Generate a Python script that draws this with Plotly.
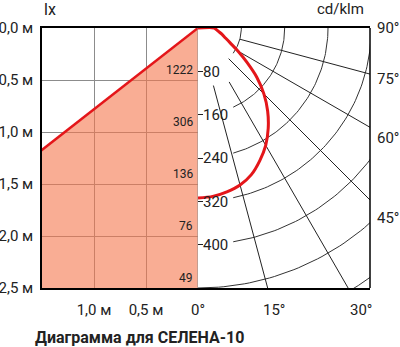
import numpy as np
import plotly.graph_objects as go

# ---------------- data ----------------
# left panel: illuminance cone
depth_ticks = [0.0, 0.5, 1.0, 1.5, 2.0, 2.5]
depth_labels = ["0,0 м", "0,5 м", "1,0 м", "1,5 м", "2,0 м", "2,5 м"]
width_ticks = [1.0, 0.5]
width_labels = ["1,0 м", "0,5 м"]
lux_depths = [0.5, 1.0, 1.5, 2.0, 2.5]
lux_values = [1222, 306, 136, 76, 49]
beam_half_angle_deg = 52

# right panel: luminous intensity curve (cd/klm)
curve_angles = [0, 5, 10, 15, 20, 25, 30, 35, 40, 45, 50, 55, 60, 65, 70, 75, 80, 85, 90, 100]
curve_cdklm = [314, 312, 307, 300, 288, 270, 250, 226, 200, 172, 142, 110, 85, 66, 54, 46, 39, 34, 30, 0]
ring_values = [80, 160, 240, 320, 400, 480, 560]
ring_labels = [80, 160, 240, 320, 400]
spoke_angles = [15, 30, 45, 60, 75]
spoke_start = [110, 115, 80, 80, 80]
side_angle_labels = [90, 75, 60, 45]
bottom_angle_labels = [0, 15, 30]

# ---------------- geometry ----------------
W, H = 400, 347
X_L, X_M, X_R = 42, 198, 370
Y_T, Y_B = 28, 288
W_M, D_M = 1.5, 2.5
R_MAX_Y = 480.0
px_per_unit = (Y_B - Y_T) / R_MAX_Y
R_MAX_X = (X_R - X_M) / px_per_unit
ydom = [1 - Y_B / H, 1 - Y_T / H]

RED = "rgb(228,22,26)"
GRID = "#8c8c8c"
INK = "#222222"
FONT = "Roboto"

fig = go.Figure()

# ---- left panel ----
t = np.tan(np.radians(beam_half_angle_deg))
edge_x = D_M * t
fig.add_trace(go.Scatter(x=[0, edge_x, 0, 0], y=[0, D_M, D_M, 0], fill="toself",
                         fillcolor="rgba(245,118,76,0.6)", line=dict(width=0),
                         mode="lines", hoverinfo="skip", xaxis="x", yaxis="y"))
fig.add_trace(go.Scatter(x=[0, edge_x], y=[0, D_M], mode="lines",
                         line=dict(color=RED, width=2.5), xaxis="x", yaxis="y"))

# ---- right panel: polar grid ----
rx, ry = [], []
gap = 65
for r in ring_values:
    a0 = np.arcsin(min(1.0, gap / r)) if r in ring_labels else 0.0
    th = np.linspace(a0, np.pi / 2, 80)
    rx += list(r * np.sin(th)) + [None]
    ry += list(r * np.cos(th)) + [None]
fig.add_trace(go.Scatter(x=rx, y=ry, mode="lines", line=dict(color="#333", width=1),
                         xaxis="x2", yaxis="y2", hoverinfo="skip"))
sx, sy = [], []
for a, r0 in zip(spoke_angles, spoke_start):
    th = np.radians(a)
    sx += [r0 * np.sin(th), 900 * np.sin(th), None]
    sy += [r0 * np.cos(th), 900 * np.cos(th), None]
fig.add_trace(go.Scatter(x=sx, y=sy, mode="lines", line=dict(color="#222", width=1),
                         xaxis="x2", yaxis="y2", hoverinfo="skip"))

th = np.radians(curve_angles)
I = np.array(curve_cdklm, dtype=float)
fig.add_trace(go.Scatter(x=I * np.sin(th), y=I * np.cos(th), mode="lines",
                         line=dict(color=RED, width=3, shape="spline", smoothing=0.8),
                         xaxis="x2", yaxis="y2"))

# ---- annotations ----
ann = []
for d, v in zip(lux_depths, lux_values):
    ann.append(dict(x=0, y=d, xref="x", yref="y", text=str(v), showarrow=False,
                    xanchor="right", yanchor="bottom", xshift=-3, yshift=1,
                    font=dict(size=12, color=INK, family=FONT)))

side_off = 18
xc = R_MAX_X + side_off / px_per_unit
for a in side_angle_labels:
    th_a = np.radians(a)
    ann.append(dict(x=R_MAX_X, y=xc * np.cos(th_a) / np.sin(th_a), xref="x2", yref="y2",
                    text=f"{a}°", showarrow=False, xanchor="center", yanchor="middle",
                    xshift=side_off, font=dict(size=15, color=INK, family=FONT)))
bot_off = 22
yc = R_MAX_Y + bot_off / px_per_unit
for a in bottom_angle_labels:
    th_a = np.radians(a)
    ann.append(dict(x=yc * np.tan(th_a), y=R_MAX_Y, xref="x2", yref="y2",
                    text=f"{a}°", showarrow=False, xanchor="center", yanchor="middle",
                    yshift=-bot_off, font=dict(size=15, color=INK, family=FONT)))

ann.append(dict(x=X_L / W, y=1 - 9 / H, xref="paper", yref="paper", text="lx",
                showarrow=False, xanchor="left", yanchor="middle",
                font=dict(size=16, color=INK, family=FONT)))
ann.append(dict(x=366 / W, y=1 - 9 / H, xref="paper", yref="paper", text="cd/klm",
                showarrow=False, xanchor="right", yanchor="middle",
                font=dict(size=15, color=INK, family=FONT)))
ann.append(dict(x=33 / W, y=1 - 337 / H, xref="paper", yref="paper",
                text="<b>Диаграмма для СЕЛЕНА-10</b>", showarrow=False,
                xanchor="left", yanchor="middle",
                font=dict(size=16, color=INK, family=FONT)))

shapes = [
    dict(type="line", xref="x", yref="y domain", x0=0, x1=0, y0=0, y1=1,
         line=dict(color=GRID, width=1)),
    dict(type="line", xref="x2 domain", yref="y2 domain", x0=1, x1=1, y0=0, y1=1,
         line=dict(color="black", width=1.5)),
]

fig.update_layout(
    width=W, height=H, margin=dict(l=0, r=0, t=0, b=0, autoexpand=False),
    paper_bgcolor="white", plot_bgcolor="white", showlegend=False,
    font=dict(family=FONT, size=15, color=INK),
    xaxis=dict(domain=[X_L / W, X_M / W], range=[W_M, 0], anchor="y",
               tickvals=width_ticks, ticktext=width_labels, ticks="",
               ticklabelstandoff=7, showgrid=True, gridcolor=GRID, gridwidth=1,
               showline=True, linecolor="black", linewidth=1.5, mirror=True,
               zeroline=False, fixedrange=True, automargin=False),
    yaxis=dict(domain=ydom, range=[D_M, 0], anchor="x",
               tickvals=depth_ticks, ticktext=depth_labels, ticks="",
               ticklabelstandoff=4, showgrid=True, gridcolor=GRID, gridwidth=1,
               showline=True, linecolor="black", linewidth=1.5, mirror=False,
               zeroline=False, fixedrange=True, automargin=False),
    xaxis2=dict(domain=[X_M / W, X_R / W], range=[0, R_MAX_X], anchor="y2",
                showticklabels=False, ticks="", showgrid=False, zeroline=False,
                showline=True, linecolor="black", linewidth=1.5, mirror=True,
                fixedrange=True, automargin=False),
    yaxis2=dict(domain=ydom, range=[R_MAX_Y, 0], anchor="x2",
                tickvals=ring_labels, ticks="inside", ticklen=5, tickcolor=INK,
                tickwidth=1, ticklabelposition="inside", showgrid=False,
                zeroline=False, showline=False, fixedrange=True, automargin=False,
                tickfont=dict(size=15, color=INK, family=FONT)),
    annotations=ann, shapes=shapes,
)

fig.write_html("out.html", config={"displayModeBar": False},
               post_script="document.body.style.margin='0';document.body.style.overflow='hidden';")
